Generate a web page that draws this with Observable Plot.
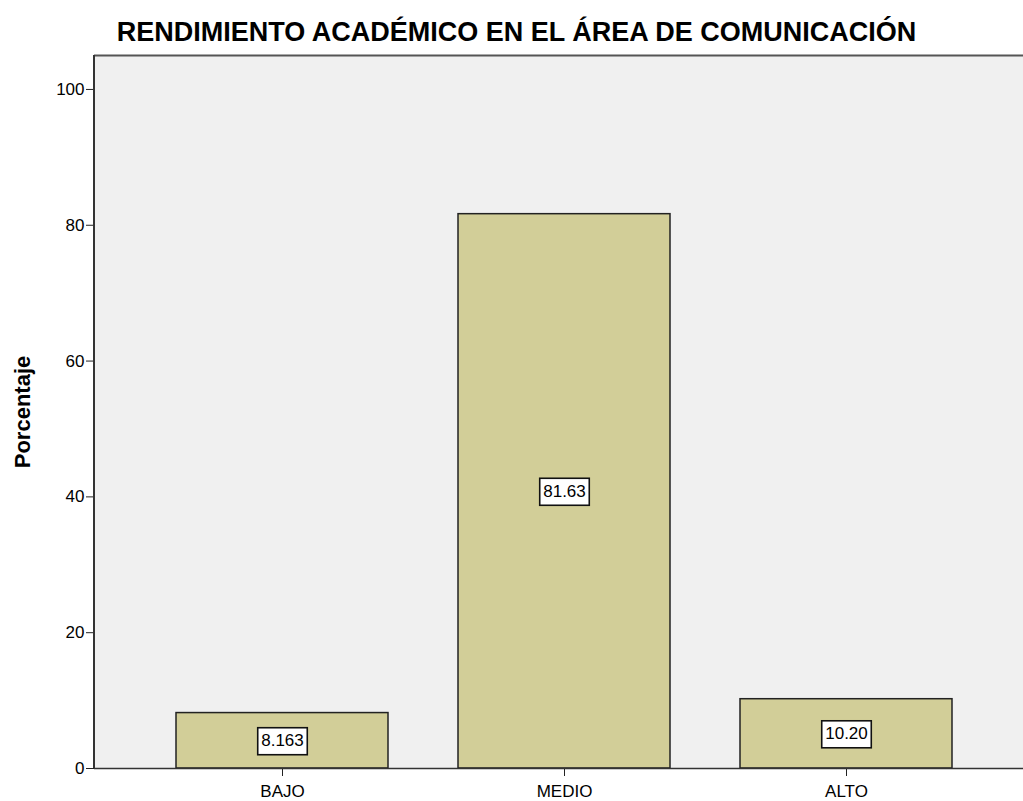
<!DOCTYPE html>
<html>
<head>
<meta charset="utf-8">
<script src="https://cdn.jsdelivr.net/npm/d3@7"></script>
<script src="https://cdn.jsdelivr.net/npm/@observablehq/plot@0.6"></script>
<style>
  html, body { margin: 0; padding: 0; background: #ffffff; overflow: hidden; }
  #wrap { position: relative; width: 1023px; height: 801px; }
  #title {
    position: absolute; left: 0; top: 16px; width: 1033px; text-align: center;
    font-family: "Liberation Sans", Arial, sans-serif; font-weight: bold; font-size: 27px;
    color: #000; line-height: 32px;
  }
  #chart { position: absolute; left: 0; top: 0; }
</style>
</head>
<body>
<div id="wrap">
  <div id="chart"></div>
  <div id="title">RENDIMIENTO ACADÉMICO EN EL ÁREA DE COMUNICACIÓN</div>
</div>
<script>
const categories = ["BAJO", "MEDIO", "ALTO"];
const percentages = [8.163265, 81.632653, 10.204082];
const valueLabels = ["8.163", "81.63", "10.20"];
const yTicks = [0, 20, 40, 60, 80, 100];

const data = categories.map((c, i) => ({cat: c, pct: percentages[i], label: valueLabels[i]}));

const font = "'Liberation Sans', Arial, sans-serif";

const chart = Plot.plot({
  width: 1023,
  height: 801,
  marginTop: 55,
  marginBottom: 33,
  marginLeft: 94,
  marginRight: 0,
  style: {fontFamily: font, fontSize: "17px", color: "#000", background: "transparent"},
  x: {domain: categories, range: [94, 1034], paddingInner: 0.248, paddingOuter: 0.29, label: null},
  y: {domain: [0, 105], ticks: yTicks, label: null},
  marks: [
    Plot.frame({fill: "#f0f0f0", stroke: null}),
    Plot.ruleY([105], {stroke: "#555", strokeWidth: 2}),
    Plot.barY(data, {x: "cat", y: "pct", fill: "#d2ce98", stroke: "#222", strokeWidth: 1.5}),
    Plot.text(data, {
      x: "cat", y: d => d.pct / 2, text: "label",
      fill: "#000", fontSize: 17, className: "vlabel"
    }),
    Plot.axisY({ticks: yTicks, tickSize: 8, tickPadding: 2, fontSize: 17, label: null, stroke: "#222"}),
    Plot.axisX({tickSize: 8, tickPadding: 8, fontSize: 17, label: null, stroke: "#222"}),
    Plot.ruleY([0], {stroke: "#333", strokeWidth: 1.5}),
    Plot.text(["Porcentaje"], {
      frameAnchor: "left", textAnchor: "middle", dx: -72, rotate: -90, text: d => d,
      fontSize: 22, fontWeight: "bold", fill: "#000"
    })
  ]
});

document.getElementById("chart").appendChild(chart);

// white boxes behind the value labels
const svg = d3.select(chart);
svg.selectAll("g.vlabel text, g[aria-label='text'] text").each(function() {
  const t = this;
  if (!valueLabels.includes(t.textContent)) return;
  if (t.previousSibling && t.previousSibling.tagName === "rect") return;
  const bb = t.getBBox();
  const padX = 3.5, padY = 4;
  d3.select(t.parentNode).insert("rect", () => t)
    .attr("transform", t.getAttribute("transform"))
    .attr("x", bb.x - padX).attr("y", bb.y - padY + 0.5)
    .attr("width", bb.width + 2 * padX).attr("height", bb.height + 2 * padY)
    .attr("fill", "#fff").attr("stroke", "#111").attr("stroke-width", 1.6);
});
// left axis line
svg.append("line").attr("x1", 94).attr("x2", 94).attr("y1", 55).attr("y2", 768)
  .attr("stroke", "#333").attr("stroke-width", 2);
</script>
</body>
</html>
